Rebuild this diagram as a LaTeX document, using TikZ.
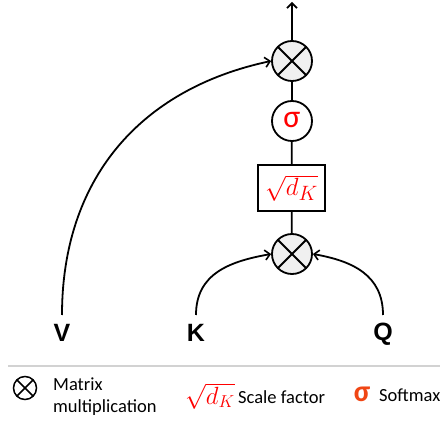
\documentclass[tikz,border=0pt]{standalone}
\usepackage{fontspec}
\setmainfont{Carlito}
\newfontfamily\lblfont{Liberation Sans}
\usetikzlibrary{arrows.meta}
\definecolor{softred}{RGB}{240,70,20}
\tikzset{
  conn/.style={line width=1.8pt},
  arr/.style={conn,-{Straight Barb[length=5pt,width=10pt,line width=1.6pt]}},
  mult/.style={circle,draw,line width=1.8pt,minimum size=40pt,inner sep=0pt,fill=gray!12,
    path picture={\draw[line width=1.8pt] (path picture bounding box.south west)--(path picture bounding box.north east)
      (path picture bounding box.north west)--(path picture bounding box.south east);}},
  legmult/.style={mult,line width=1.5pt,minimum size=23pt,fill=white,
    path picture={\draw[line width=1.5pt] (path picture bounding box.south west)--(path picture bounding box.north east)
      (path picture bounding box.north west)--(path picture bounding box.south east);}},
  sig/.style={circle,draw,line width=1.8pt,minimum size=40pt,inner sep=0pt,fill=white,text=red,
    font=\fontsize{32}{32}\selectfont},
  scalebox/.style={rectangle,draw,line width=1.8pt,minimum width=67pt,minimum height=46pt,inner sep=0pt,text=red},
  inlbl/.style={font=\lblfont\bfseries\fontsize{25}{25}\selectfont},
  legtxt/.style={font=\fontsize{18.5}{21.5}\selectfont,inner sep=0pt},
}
\begin{document}
\begin{tikzpicture}[x=1pt,y=-1pt]
\useasboundingbox (0,0) rectangle (440,425);
% main column
\node[mult] (m1) at (292,61) {};
\node[sig] (s) at (292,121) {\raisebox{2pt}{σ}};
\node[scalebox] (b) at (291.5,188) {\fontsize{28}{28}\selectfont$\sqrt{d_K}$};
\node[mult] (m2) at (292,254) {};
\coordinate (out) at (292,2);
\draw[conn] (m1) -- (s);
\draw[conn] (s) -- (b);
\draw[conn] (b) -- (m2);
\draw[arr] (m1) -- (out);
% inputs
\node[inlbl] (V) at (62,333) {V};
\node[inlbl] (K) at (196,333) {K};
\node[inlbl] (Q) at (383,334) {Q};
\coordinate (vs) at (62,315);
\coordinate (ks) at (196,315);
\coordinate (qs) at (383,315);
\draw[arr] (vs) to[out=90,in=192,looseness=1.05] (m1.west);
\draw[arr] (ks) to[out=90,in=190,looseness=1.1] (m2.west);
\draw[arr] (qs) to[out=90,in=-10,looseness=1.1] (m2.east);
% legend
\coordinate (r1) at (8,366);
\coordinate (r2) at (440,366);
\draw[line width=2pt,gray!35] (r1) -- (r2);
\node[legmult] (lm) at (25,388) {};
\node[legtxt,anchor=north west,align=left] (lt1) at (53,378) {Matrix\\multiplication};
\node[text=red,inner sep=0pt] (ls) at (210,396) {\fontsize{23}{23}\selectfont$\sqrt{d_K}$};
\node[legtxt,anchor=base west] (lt2) at (238,404) {Scale factor};
\node[text=softred,inner sep=0pt,anchor=base] (lsig) at (362,402) {\fontsize{30}{30}\selectfont\bfseries σ};
\node[legtxt,anchor=base west] (lt3) at (379,402) {Softmax};
\end{tikzpicture}
\end{document}
